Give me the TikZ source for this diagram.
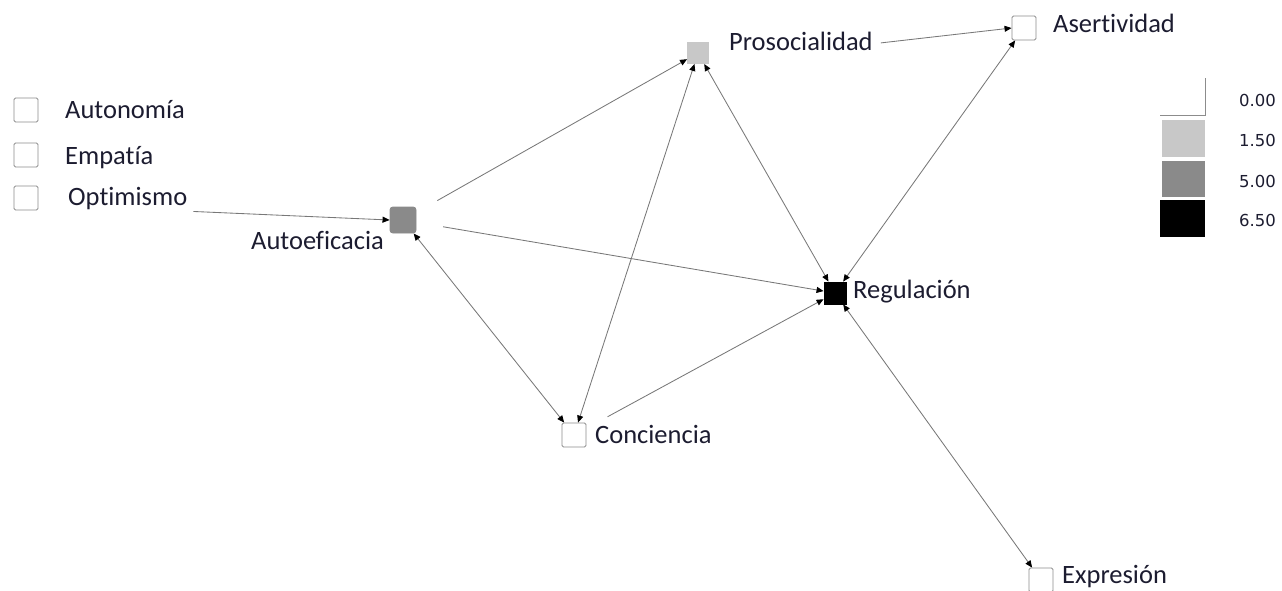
\documentclass[tikz,border=0pt]{standalone}
\usepackage{fontspec}
\setmainfont{Carlito}[Ligatures=CommonOff]
\newfontfamily\legfont{DejaVu Sans}
\usetikzlibrary{arrows.meta,calc}
\definecolor{txt}{RGB}{28,28,48}
\definecolor{edgegray}{RGB}{120,120,120}
\definecolor{boxgray}{RGB}{140,140,140}
\definecolor{lightg}{RGB}{200,200,200}
\definecolor{midg}{RGB}{138,138,138}
\begin{document}
\begin{tikzpicture}[x=1pt,y=-1pt,
  vbox/.style={draw=boxgray,line width=0.9pt,rounded corners=1.5pt,minimum size=24pt,inner sep=0pt},
  lab/.style={anchor=base west,text=txt,font=\fontsize{26.5}{31}\selectfont,inner sep=0pt},
  leg/.style={anchor=base west,text=txt,font=\legfont\fontsize{16.5}{19}\selectfont,inner sep=0pt},
  tip/.tip={Triangle[length=7pt,width=6pt,color=black]},
  link/.style={draw=edgegray,line width=0.85pt,-tip},
  both/.style={draw=edgegray,line width=0.85pt,tip-tip}
]
\useasboundingbox (0,0) rectangle (1282,590);
\clip (0,0) rectangle (1282,590);
% left list
\node[vbox] (auton) at (26,110) {};
\node[lab] (autonl) at (65,118) {Autonomía};
\node[vbox] (empat) at (26,155) {};
\node[lab] (empatl) at (65,164) {Empatía};
\node[vbox] (optim) at (26,198) {};
\node[lab] (optiml) at (68,205) {Optimismo};
% network
\node[vbox,fill=midg,draw=midg,minimum size=26pt,rounded corners=3pt] (autoef) at (403,220) {};
\node[lab,anchor=base east] (autoefl) at (384,249) {Autoeficacia};
\node[vbox,fill=lightg,draw=lightg,minimum size=21pt,rounded corners=0pt] (proso) at (698,53) {};
\node[lab] (prosol) at (729,50) {Prosocialidad};
\node[vbox] (asert) at (1024,28) {};
\node[lab] (asertl) at (1053,32) {Asertividad};
\node[vbox,fill=black,draw=black,minimum size=22pt,rounded corners=0pt] (regul) at (835,293) {};
\node[lab] (regull) at (853,298) {Regulación};
\node[vbox] (conc) at (574,435) {};
\node[lab] (concl) at (595,443) {Conciencia};
\node[vbox] (expr) at (1041,580) {};
\node[lab] (exprl) at (1062,583) {Expresión};
% connectors
\draw[link] ([xshift=6pt,yshift=-2pt]optiml.south east) -- (autoef.west);
\draw[link,shorten <=24pt] (autoef) -- (proso);
\draw[link,shorten <=27pt] (autoef) -- (regul);
\draw[both] (autoef) -- (conc);
\draw[both] (conc) -- (proso);
\draw[link,shorten <=24pt] (conc) -- (regul);
\draw[both] (proso) -- (regul);
\draw[link] ([xshift=8pt,yshift=-2pt]prosol.east) -- (asert.west);
\draw[both] (regul) -- (asert);
\draw[both] (regul) -- (expr);
% legend
\draw[boxgray,line width=0.9pt] (1205,78) -- (1205,115) -- (1160,115);
\fill[lightg] (1162,120) rectangle (1205,157);
\fill[midg] (1162,161) rectangle (1205,197);
\fill[black] (1160,200) rectangle (1205,237);
\node[leg] (l0) at (1239,106) {0.00};
\node[leg] (l1) at (1239,146) {1.50};
\node[leg] (l2) at (1239,187) {5.00};
\node[leg] (l3) at (1239,226) {6.50};
\end{tikzpicture}
\end{document}
